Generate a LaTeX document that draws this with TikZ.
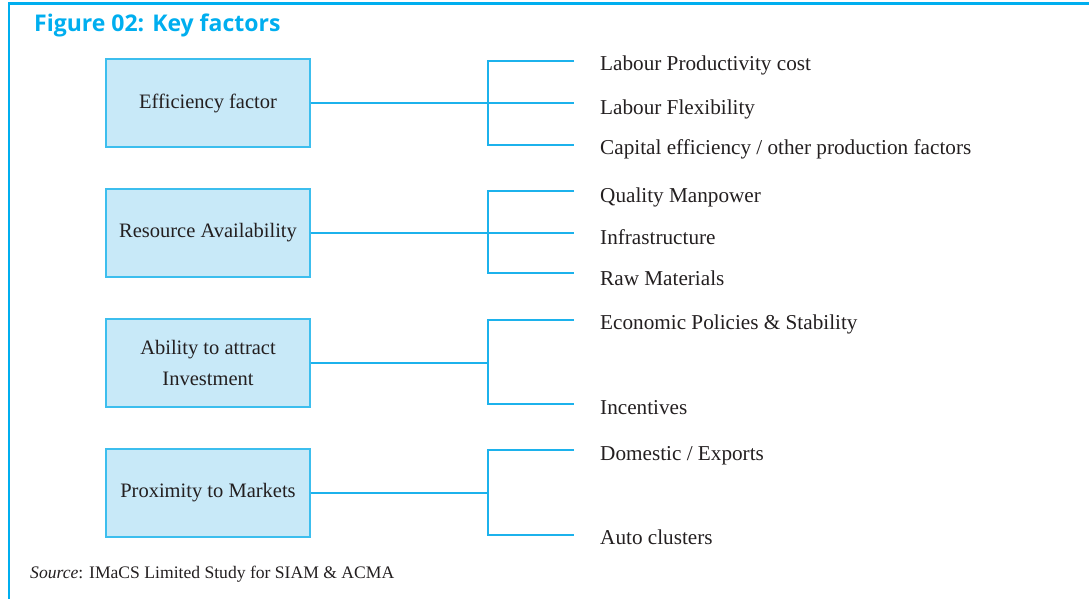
\documentclass[tikz,border=0pt]{standalone}
\usepackage{fontspec}
\setmainfont{Liberation Serif}
\newfontfamily\titlefont{Open Sans}
\begin{document}
\definecolor{cyanT}{HTML}{00AEEF}
\definecolor{boxfill}{HTML}{C8E9F8}
\definecolor{boxline}{HTML}{3CBEEE}
\definecolor{conncol}{HTML}{1CB2EC}
\definecolor{txt}{HTML}{231F20}
\begin{tikzpicture}[x=1pt,y=-1pt,
  keybox/.style={draw=boxline,line width=1.4pt,fill=boxfill,minimum width=204pt,minimum height=88pt,inner sep=0pt,text=txt,font=\fontsize{20.5}{31}\selectfont,align=center},
  lab/.style={anchor=west,inner sep=0pt,text=txt,font=\fontsize{21.2}{24}\selectfont},
  conn/.style={draw=conncol,line width=1.1pt}]
\useasboundingbox (0,0) rectangle (1089,599);
\draw[cyanT,line width=2.5pt] (9,599) -- (9,3.5) -- (1089,3.5);
\node[anchor=west,inner sep=0pt,text=cyanT,font=\titlefont\bfseries\fontsize{23}{27}\selectfont] (title) at (34,25.5) {Figure 02: Key factors};
% boxes
\node[keybox] (b1) at (208,103) {Efficiency factor};
\node[keybox] (b2) at (208,233) {Resource Availability};
\node[keybox] (b3) at (208,363) {Ability to attract\\Investment};
\node[keybox] (b4) at (208,493) {Proximity to Markets};
% junctions
\coordinate (j1) at (488,103);
\coordinate (j2) at (488,233);
\coordinate (j3) at (488,363);
\coordinate (j4) at (488,493);
% labels
\node[lab] (l11) at (600,65.5) {Labour Productivity cost};
\node[lab] (l12) at (600,109.5) {Labour Flexibility};
\node[lab] (l13) at (600,149) {Capital efficiency / other production factors};
\node[lab] (l21) at (600,197.5) {Quality Manpower};
\node[lab] (l22) at (600,237) {Infrastructure};
\node[lab] (l23) at (600,278) {Raw Materials};
\node[lab] (l31) at (600,324.5) {Economic Policies \& Stability};
\node[lab] (l32) at (600,408) {Incentives};
\node[lab] (l41) at (600,455.5) {Domestic / Exports};
\node[lab] (l42) at (600,537) {Auto clusters};
% endpoints
\coordinate (e11) at (574,61);
\coordinate (e12) at (574,103);
\coordinate (e13) at (574,145);
\coordinate (e21) at (574,191);
\coordinate (e22) at (574,233);
\coordinate (e23) at (574,273);
\coordinate (e31) at (574,320);
\coordinate (e32) at (574,404);
\coordinate (e41) at (574,450);
\coordinate (e42) at (574,535);
% connectors
\draw[conn] (b1.east) -- (j1) -- (e12);
\draw[conn] (e11) -| (j1) |- (e13);
\draw[conn] (b2.east) -- (j2) -- (e22);
\draw[conn] (e21) -| (j2) |- (e23);
\draw[conn] (b3.east) -- (j3);
\draw[conn] (e31) -| (j3) |- (e32);
\draw[conn] (b4.east) -- (j4);
\draw[conn] (e41) -| (j4) |- (e42);
\node[anchor=west,inner sep=0pt,text=txt,font=\fontsize{17.6}{20}\selectfont] (src) at (30,574) {\textit{Source}: IMaCS Limited Study for SIAM \& ACMA};
\end{tikzpicture}
\end{document}
